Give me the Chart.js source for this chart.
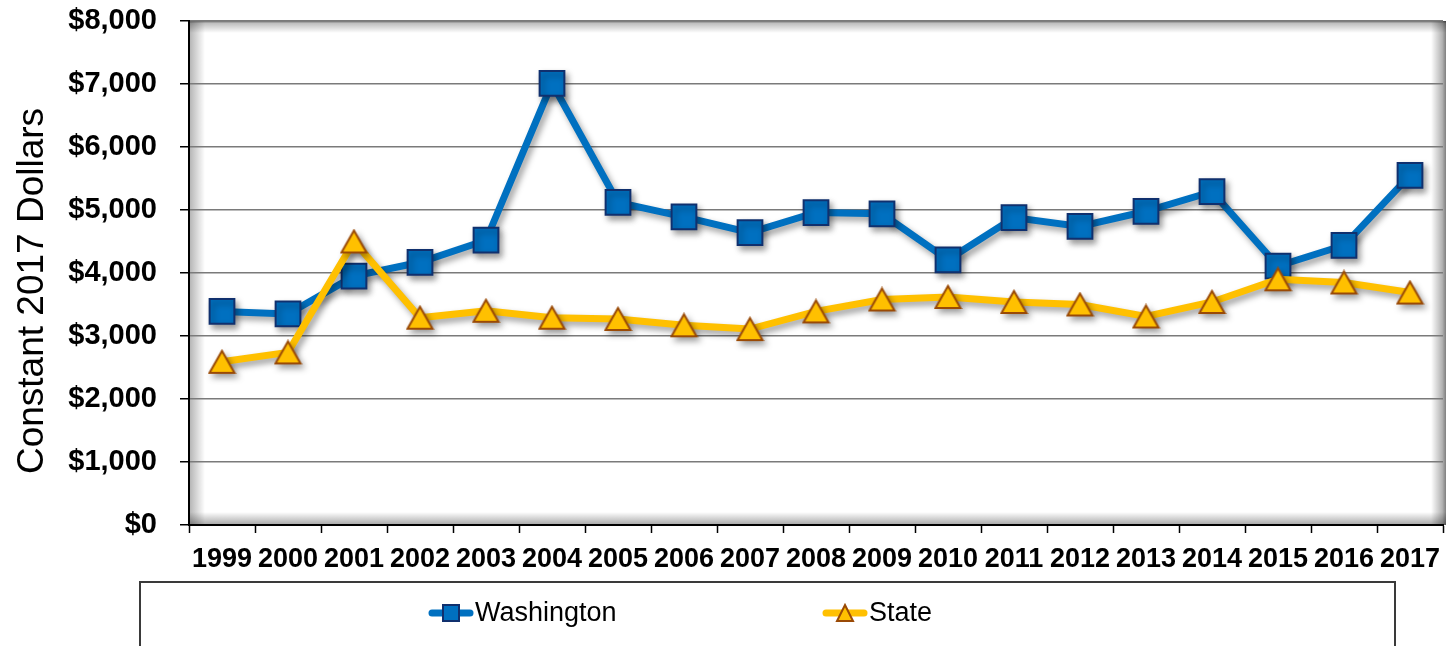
<!DOCTYPE html>
<html>
<head>
<meta charset="utf-8">
<script src="https://cdn.jsdelivr.net/npm/chart.js@4.4.1/dist/chart.umd.min.js"></script>
<style>
  html, body { margin: 0; padding: 0; background: #ffffff; }
  #wrap { width: 1446px; height: 646px; position: relative; }
</style>
</head>
<body>
<div id="wrap"><canvas id="c" width="1446" height="646"></canvas></div>
<script>
// Per-capita spending, constant 2017 dollars
const years = ['1999','2000','2001','2002','2003','2004','2005','2006','2007','2008',
               '2009','2010','2011','2012','2013','2014','2015','2016','2017'];
const washington = [3390, 3350, 3950, 4170, 4520, 7010, 5120, 4890, 4640, 4960,
                    4940, 4210, 4880, 4740, 4980, 5290, 4110, 4440, 5550];
const state = [2590, 2740, 4500, 3290, 3400, 3290, 3270, 3170, 3110, 3390,
               3580, 3620, 3540, 3500, 3310, 3540, 3900, 3850, 3690];
const seriesNames = ['Washington', 'State'];
const yAxisTitle = 'Constant 2017 Dollars';

const BLUE = '#0070C0', BLUE_EDGE = '#10306E';
const GOLD = '#FFC000', GOLD_EDGE = '#9A4A06';
const FONT = '"Liberation Sans", Arial, sans-serif';

// Triangle marker centred on its bounding box
function triangleMarker(w, h) {
  const pad = 2;
  const cv = document.createElement('canvas');
  cv.width = w + pad * 2; cv.height = h + pad * 2;
  const c = cv.getContext('2d');
  c.beginPath();
  c.moveTo(pad + w / 2, pad);
  c.lineTo(pad + w, pad + h);
  c.lineTo(pad, pad + h);
  c.closePath();
  c.fillStyle = GOLD; c.fill();
  c.lineWidth = 2; c.strokeStyle = GOLD_EDGE; c.lineJoin = 'miter'; c.stroke();
  return cv;
}
const triPlot = triangleMarker(25, 22);
const triLegend = triangleMarker(16, 16);

function money(v) { return '$' + v.toLocaleString('en-US'); }

// Inner bevel shading of the plot frame
const frameShade = {
  id: 'frameShade',
  beforeDraw(chart) {
    const { ctx, chartArea: a } = chart;
    const right = chart.width;
    ctx.save();
    ctx.fillStyle = '#ffffff';
    ctx.fillRect(a.left, a.top, right - a.left, a.bottom - a.top);
    let g;
    // top
    g = ctx.createLinearGradient(0, a.top, 0, a.top + 12);
    g.addColorStop(0, 'rgba(0,0,0,0.55)'); g.addColorStop(0.2, 'rgba(0,0,0,0.25)'); g.addColorStop(1, 'rgba(0,0,0,0)');
    ctx.fillStyle = g; ctx.fillRect(a.left, a.top, right - a.left, 12);
    // left
    g = ctx.createLinearGradient(a.left, 0, a.left + 16, 0);
    g.addColorStop(0, 'rgba(0,0,0,0.30)'); g.addColorStop(1, 'rgba(0,0,0,0)');
    ctx.fillStyle = g; ctx.fillRect(a.left, a.top, 16, a.bottom - a.top);
    // right
    g = ctx.createLinearGradient(right, 0, right - 15, 0);
    g.addColorStop(0, 'rgba(0,0,0,0.50)'); g.addColorStop(0.25, 'rgba(0,0,0,0.30)'); g.addColorStop(1, 'rgba(0,0,0,0)');
    ctx.fillStyle = g; ctx.fillRect(right - 15, a.top, 15, a.bottom - a.top);
    // bottom
    g = ctx.createLinearGradient(0, a.bottom, 0, a.bottom - 13);
    g.addColorStop(0, 'rgba(0,0,0,0.35)'); g.addColorStop(1, 'rgba(0,0,0,0)');
    ctx.fillStyle = g; ctx.fillRect(a.left, a.bottom - 13, right - a.left, 13);
    ctx.restore();
  }
};

// Soft drop shadow under the series
const seriesShadow = {
  id: 'seriesShadow',
  beforeDatasetsDraw(chart) {
    const ctx = chart.ctx;
    ctx.save();
    ctx.shadowColor = 'rgba(0,0,0,0.38)';
    ctx.shadowBlur = 6;
    ctx.shadowOffsetX = 3;
    ctx.shadowOffsetY = 4;
  },
  afterDatasetsDraw(chart) { chart.ctx.restore(); }
};

// Axis title and boxed legend
const extras = {
  id: 'extras',
  afterDraw(chart) {
    const ctx = chart.ctx;
    ctx.save();
    ctx.fillStyle = '#000';
    ctx.font = '37px ' + FONT;
    ctx.translate(43, 291);
    ctx.rotate(-Math.PI / 2);
    ctx.textAlign = 'center';
    ctx.textBaseline = 'alphabetic';
    ctx.fillText(yAxisTitle, 0, 0);
    ctx.restore();

    ctx.save();
    ctx.strokeStyle = '#3a3a3a';
    ctx.lineWidth = 2;
    ctx.strokeRect(140, 582, 1255, 120);
    const y = 613;
    const items = [
      { x: 429, color: BLUE, label: seriesNames[0], marker: 'rect' },
      { x: 823, color: GOLD, label: seriesNames[1], marker: 'tri' }
    ];
    items.forEach(it => {
      ctx.strokeStyle = it.color;
      ctx.lineWidth = 7;
      ctx.lineCap = 'round';
      ctx.beginPath(); ctx.moveTo(it.x + 3, y); ctx.lineTo(it.x + 41, y); ctx.stroke();
      const cx = it.x + 22;
      if (it.marker === 'rect') {
        ctx.fillStyle = BLUE; ctx.fillRect(cx - 8, y - 8, 16, 16);
        ctx.lineWidth = 2; ctx.strokeStyle = BLUE_EDGE; ctx.strokeRect(cx - 8, y - 8, 16, 16);
      } else {
        ctx.drawImage(triLegend, cx - triLegend.width / 2, y - triLegend.height / 2);
      }
      ctx.fillStyle = '#000';
      ctx.font = '27px ' + FONT;
      ctx.textAlign = 'left';
      ctx.textBaseline = 'middle';
      ctx.fillText(it.label, it.x + 46, y + 1);
    });
    ctx.restore();
  }
};

new Chart(document.getElementById('c'), {
  type: 'line',
  data: {
    labels: years,
    datasets: [
      {
        label: seriesNames[0],
        data: washington,
        order: 1,
        borderColor: BLUE,
        borderWidth: 7,
        tension: 0,
        pointStyle: 'rect',
        pointRadius: 17.5,
        pointBackgroundColor: BLUE,
        pointBorderColor: BLUE_EDGE,
        pointBorderWidth: 2
      },
      {
        label: seriesNames[1],
        data: state,
        order: 0,
        borderColor: GOLD,
        borderWidth: 7,
        tension: 0,
        pointStyle: triPlot,
        pointRadius: 14
      }
    ]
  },
  options: {
    responsive: false,
    animation: false,
    events: [],
    layout: { autoPadding: false, padding: { top: 21, right: 3, left: 0, bottom: 0 } },
    plugins: {
      legend: { display: false },
      tooltip: { enabled: false },
      title: { display: false }
    },
    scales: {
      x: {
        offset: true,
        grid: {
          offset: true,
          drawOnChartArea: false,
          tickLength: 8,
          tickColor: '#000',
          tickWidth: 1.5
        },
        border: { display: true, color: '#000', width: 2 },
        ticks: {
          autoSkip: false,
          maxRotation: 0,
          minRotation: 0,
          padding: 10,
          color: '#000',
          font: { family: FONT, size: 27, weight: 'bold' }
        },
        afterFit(scale) {
          scale.height = 121;
          scale.paddingLeft = 0;
          scale.paddingRight = 0;
        }
      },
      y: {
        min: 0,
        max: 8000,
        grid: {
          color: '#7a7a7a',
          lineWidth: 1.5,
          tickLength: 9,
          tickColor: '#000',
          tickWidth: 1.5
        },
        border: { display: true, color: '#000', width: 2 },
        ticks: {
          stepSize: 1000,
          padding: 23,
          color: '#000',
          font: { family: FONT, size: 29, weight: 'bold' },
          callback: v => money(v)
        },
        afterFit(scale) {
          scale.width = 189;
          scale.paddingTop = 0;
          scale.paddingBottom = 0;
        }
      }
    }
  },
  plugins: [frameShade, seriesShadow, extras]
});
</script>
</body>
</html>
